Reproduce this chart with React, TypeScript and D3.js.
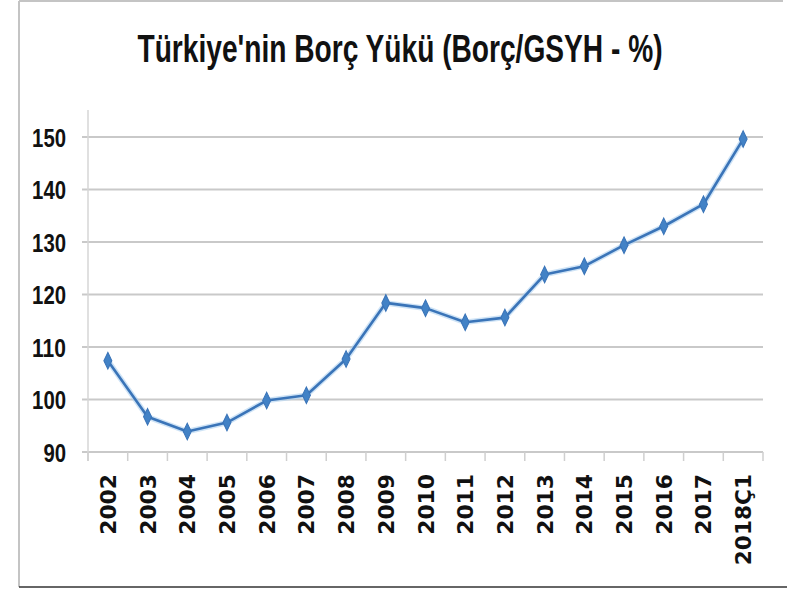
import React from "react";
import * as d3 from "d3";

const title = "Türkiye'nin Borç Yükü (Borç/GSYH - %)";
const categories = ["2002", "2003", "2004", "2005", "2006", "2007", "2008", "2009", "2010", "2011", "2012", "2013", "2014", "2015", "2016", "2017", "2018Ç1"];
const values = [107.4, 96.7, 93.9, 95.6, 99.8, 100.8, 107.7, 118.4, 117.4, 114.7, 115.6, 123.8, 125.4, 129.4, 133.0, 137.2, 149.6];
const yTicks = [90, 100, 110, 120, 130, 140, 150];

export default function App() {
  const W = 811, H = 589;
  const left = 88, right = 763, top = 137, bottom = 452;
  const x = d3.scaleBand<string>().domain(categories).range([left, right]).padding(0);
  const y = d3.scaleLinear().domain([90, 150]).range([bottom, top]);
  const line = d3.line<number>()
    .x((_, i) => (x(categories[i]) as number) + x.bandwidth() / 2)
    .y((d) => y(d));
  const boundaries = categories.map((c) => x(c) as number).concat([right]);
  const diamond = d3.symbol().type(d3.symbolDiamond).size(55)();

  return (
    <svg width={W} height={H} style={{ position: "absolute", left: 0, top: 0, background: "#fff" }}>
      {/* frame */}
      <line x1={19} y1={1} x2={783} y2={1} stroke="#c4c4c4" strokeWidth={2} />
      <line x1={19} y1={1} x2={19} y2={587} stroke="#c4c4c4" strokeWidth={2} />
      <line x1={19} y1={587} x2={787} y2={587} stroke="#333" strokeWidth={1.5} />

      {/* title */}
      <text transform="translate(400,62) scale(1,1.3)" textAnchor="middle"
        fontFamily="'Liberation Sans Narrow', 'Liberation Sans', Arial, sans-serif"
        fontWeight="bold" fontSize={30} textLength={525} lengthAdjust="spacingAndGlyphs" fill="#111">
        {title}
      </text>

      {/* gridlines */}
      {yTicks.map((t) => (
        <line key={t} x1={82} x2={right} y1={y(t)} y2={y(t)} stroke="#c9c9c9" strokeWidth={2} />
      ))}
      {/* vertical axis */}
      <line x1={left} x2={left} y1={110} y2={461} stroke="#d6d6d6" strokeWidth={1.5} />
      {/* x ticks */}
      {boundaries.map((b, i) => (
        <line key={i} x1={b} x2={b} y1={bottom} y2={461} stroke="#cfcfcf" strokeWidth={1.5} />
      ))}

      {/* y labels */}
      {yTicks.map((t) => (
        <text key={t} x={66} y={y(t) + 9.5} textAnchor="end"
          fontFamily="'Liberation Sans Narrow', 'Liberation Sans', Arial, sans-serif" fontWeight="bold"
          fontSize={26} textLength={String(t).length * 11.3} lengthAdjust="spacingAndGlyphs" fill="#111">
          {t}
        </text>
      ))}

      {/* x labels */}
      {categories.map((c) => {
        const cx = (x(c) as number) + x.bandwidth() / 2;
        return (
          <text key={c} transform={`translate(${cx + 8},474) rotate(-90)`} textAnchor="end"
            fontFamily="'DejaVu Sans', Verdana, sans-serif" fontWeight="bold" fontSize={21}
            textLength={c.length * 15.2} lengthAdjust="spacingAndGlyphs" fill="#111">
            {c}
          </text>
        );
      })}

      {/* series */}
      <path d={line(values) || ""} fill="none" stroke="#aed0f0" strokeWidth={5.5} strokeLinejoin="round" opacity={0.6} />
      <path d={line(values) || ""} fill="none" stroke="#3a74b8" strokeWidth={2.6} strokeLinejoin="round" />
      {values.map((v, i) => (
        <path key={i} d={diamond || ""} transform={`translate(${(x(categories[i]) as number) + x.bandwidth() / 2},${y(v)}) scale(1,1.2)`}
          fill="#4282c6" stroke="#3a74b8" strokeWidth={1} />
      ))}
    </svg>
  );
}
